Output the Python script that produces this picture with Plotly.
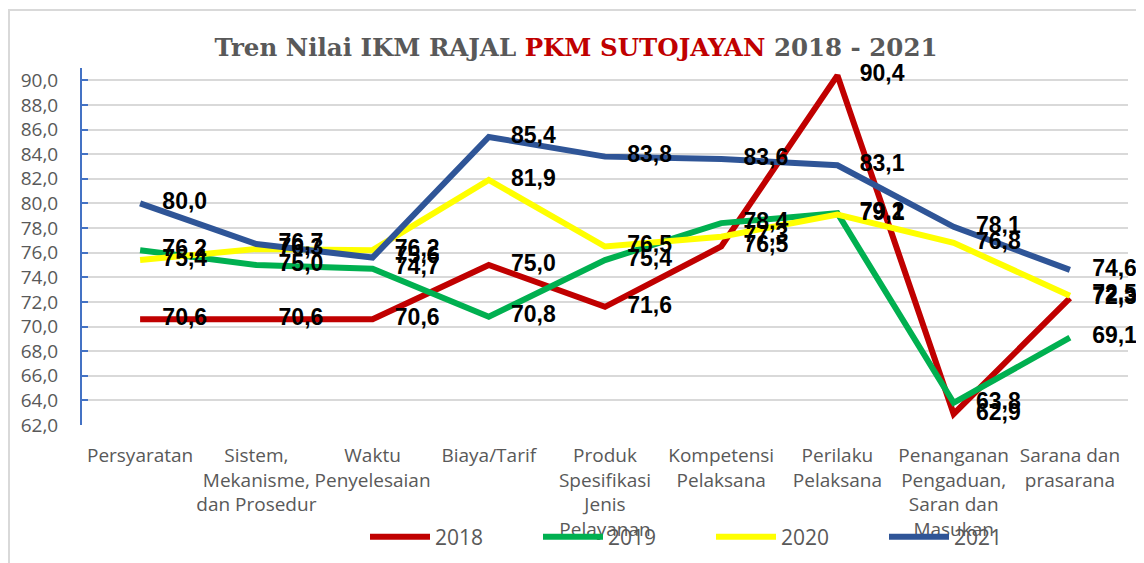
import plotly.graph_objects as go

categories = [
    "Persyaratan",
    "Sistem,<br>Mekanisme,<br>dan Prosedur",
    "Waktu<br>Penyelesaian",
    "Biaya/Tarif",
    "Produk<br>Spesifikasi<br>Jenis<br>Pelayanan",
    "Kompetensi<br>Pelaksana",
    "Perilaku<br>Pelaksana",
    "Penanganan<br>Pengaduan,<br>Saran dan<br>Masukan",
    "Sarana dan<br>prasarana",
]

v2018 = [70.6, 70.6, 70.6, 75.0, 71.6, 76.5, 90.4, 62.9, 72.3]
v2019 = [76.2, 75.0, 74.7, 70.8, 75.4, 78.4, 79.2, 63.8, 69.1]
v2020 = [75.4, 76.3, 76.2, 81.9, 76.5, 77.3, 79.1, 76.8, 72.5]
v2021 = [80.0, 76.7, 75.6, 85.4, 83.8, 83.6, 83.1, 78.1, 74.6]

series_names = ["2018", "2019", "2020", "2021"]
series_values = [v2018, v2019, v2020, v2021]
colors = ["#C00000", "#00B050", "#FFFF00", "#2F5597"]

# page body has an 8px margin, so the figure is 8px smaller and shifted
OFF = 8
W, H = 1144 - OFF, 563 - OFF
ML, MR, MT, MB = 82 - OFF, 16, 68 - OFF, 138
PW = W - ML - MR
PH = H - MT - MB

fig = go.Figure()

for name, vals, col in zip(series_names, series_values, colors):
    fig.add_trace(go.Scatter(
        x=categories, y=vals, name=name, mode="lines",
        line=dict(color=col, width=6),
        hoverinfo="skip",
    ))

label_font = dict(family="Liberation Sans Narrow, Arial Narrow, Liberation Sans, sans-serif",
                  size=23, color="#000000", weight="bold")
for name, vals in zip(series_names, series_values):
    fig.add_trace(go.Scatter(
        x=categories, y=vals, mode="markers+text", showlegend=False,
        marker=dict(size=34, color="rgba(0,0,0,0)"),
        texttemplate="%{y:.1f}", textposition="middle right",
        textfont=label_font, cliponaxis=False, hoverinfo="skip",
    ))

# chart border
bx0, bx1, by1 = 9 - OFF, 1142 - OFF, 10 - OFF
fig.add_shape(type="rect", xref="paper", yref="paper",
              x0=(bx0 - ML) / PW, x1=(bx1 - ML) / PW,
              y0=-(H + 10 - (MT + PH)) / PH, y1=(MT + PH - by1) / PH,
              line=dict(color="#D9D9D9", width=2), fillcolor="rgba(0,0,0,0)",
              layer="below")

fig.update_layout(
    width=W, height=H,
    margin=dict(l=ML, r=MR, t=MT, b=MB, autoexpand=False),
    paper_bgcolor="white", plot_bgcolor="white",
    separators=",.",
    title=dict(
        text="Tren Nilai IKM RAJAL <span style='color:#C00000'>PKM SUTOJAYAN</span> 2018 - 2021",
        font=dict(family="DejaVu Serif, serif", size=24.5, color="#595959", weight="bold"),
        xref="container", x=(576 - OFF) / W, xanchor="center",
        yref="container", y=1 - (47 - OFF) / H, yanchor="middle",
    ),
    xaxis=dict(
        range=[-0.5, 8.5], showgrid=False, showline=False, zeroline=False,
        tickfont=dict(family="Open Sans, sans-serif", size=19, color="#595959"),
        tickangle=0, ticks="", automargin=False, ticklabelstandoff=17,
    ),
    yaxis=dict(
        range=[62, 91], tick0=62, dtick=2, tickformat=".1f",
        showgrid=True, gridcolor="#D9D9D9", gridwidth=2,
        showline=True, linecolor="#4472C4", linewidth=2,
        ticks="inside", ticklen=6, tickcolor="#4472C4", tickwidth=2,
        zeroline=False, automargin=False,
        tickfont=dict(family="Open Sans, sans-serif", size=19, color="#595959"),
        ticklabelstandoff=18,
    ),
    legend=dict(
        orientation="h", xref="container", yref="container",
        x=(365 - OFF) / W, xanchor="left", y=1 - (537 - OFF) / H, yanchor="middle",
        font=dict(family="Open Sans, sans-serif", size=21, color="#595959"),
        itemwidth=60, entrywidth=98, entrywidthmode="pixels",
        bgcolor="rgba(0,0,0,0)",
    ),
)

fig.write_html("out.html")
